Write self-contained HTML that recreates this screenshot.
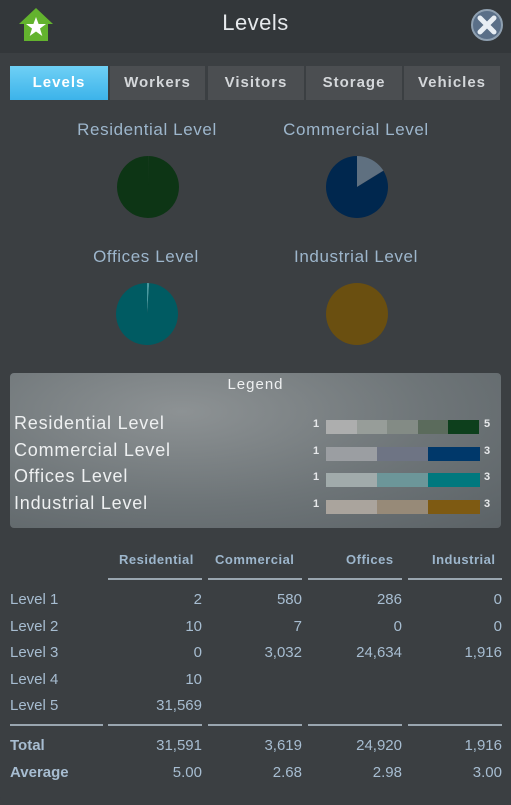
<!DOCTYPE html>
<html><head><meta charset="utf-8">
<style>
*{margin:0;padding:0;box-sizing:border-box}
body{width:511px;height:805px;background:#3c3f42;font-family:"Liberation Sans","DejaVu Sans",sans-serif;position:relative;overflow:hidden}
.a{position:absolute}
.panel{left:0;top:0;width:511px;height:805px;background:#3b3f42;border-radius:8px}
.header{left:0;top:0;width:511px;height:53px;background:#33373a}
.title{left:0;top:10px;width:511px;text-align:center;color:#e6e9ec;font-size:22px;letter-spacing:.5px}
.tab{top:66px;height:34px;background:#4b4e51;color:#d4d7da;font-size:15px;font-weight:bold;text-align:center;line-height:34px;letter-spacing:1px}
.ptitle{color:#9db6cc;font-size:17px;text-align:center;width:210px;letter-spacing:.6px}
.legend{left:10px;top:373px;width:491px;height:155px;border-radius:4px;background:radial-gradient(ellipse at 35% 25%,#8d9294 0%,#6e7578 55%,#5b6266 100%)}
.ll{color:#eef0f1;font-size:18px;left:4px;letter-spacing:.8px}
.num{color:#e6e8ea;font-size:11px;font-weight:bold}
.sw{height:14px;top:0}
.th{color:#9db6cc;font-size:13px;font-weight:bold;top:552px;letter-spacing:.5px}
.td{color:#a7bdd1;font-size:15px;text-align:right;width:90px}
.rl{color:#a7bdd1;font-size:15px;left:10px}
.line{height:2px;background:#9aa6b0}
</style></head><body>
<div class="a panel"></div>
<div class="a header"></div>
<svg class="a" style="left:18px;top:7px" width="36" height="36">
<polygon points="18,1 35,17 30,17 30,34 6,34 6,17 1,17" fill="#63b32e"/>
<polygon points="18,10 20.6,17 28,17 22,21.5 24.3,29 18,24.5 11.7,29 14,21.5 8,17 15.4,17" fill="#fff"/></svg>
<div class="a title">Levels</div>
<svg class="a" style="left:470px;top:9px" width="34" height="34">
<circle cx="17" cy="16" r="15" fill="#5a6f88" stroke="#8fa0b1" stroke-width="2"/>
<path d="M10 9 L24 23 M24 9 L10 23" stroke="#e8eef4" stroke-width="5" stroke-linecap="round"/></svg>

<div class="a tab" style="left:10px;width:98px;background:linear-gradient(#6fd0f5,#3cb3ea);color:#fff">Levels</div>
<div class="a tab" style="left:110px;width:95px">Workers</div>
<div class="a tab" style="left:208px;width:96px">Visitors</div>
<div class="a tab" style="left:306px;width:96px">Storage</div>
<div class="a tab" style="left:404px;width:96px">Vehicles</div>

<div class="a ptitle" style="left:42px;top:120px">Residential Level</div>
<div class="a ptitle" style="left:251px;top:120px">Commercial Level</div>
<div class="a ptitle" style="left:41px;top:247px">Offices Level</div>
<div class="a ptitle" style="left:251px;top:247px">Industrial Level</div>
<svg id="pies" class="a" style="left:0;top:0" width="511" height="360"></svg>

<div class="a legend">
<div class="a" style="left:0;top:3px;width:491px;text-align:center;color:#eef0f1;font-size:15px;letter-spacing:1px">Legend</div>
<div id="legrows"></div>
</div>

<div id="table"></div>

<script>
const categories=["Residential","Commercial","Offices","Industrial"];
const residential=[2,10,0,10,31569];
const commercial=[580,7,3032];
const offices=[286,0,24634];
const industrial=[0,0,1916];
const averages=["5.00","2.68","2.98","3.00"];
const resColors=["#adaeae","#979d99","#838b85","#5b6b5c","#0d3515"];
const comColors=["#5f7080","#6b7083","#00274e"];
const offColors=["#4a9aa0","#6a9a9c","#005b62"];
const indColors=["#a7a39c","#958a77","#6a4f10"];
const legendColors=[["#adaeae","#979d99","#838b85","#5b6b5c","#0d3f1c"],["#9b9ea2","#6e7484","#00386a"],["#a1abab","#6c9699","#00787e"],["#aaa49d","#978a78","#7e5a12"]];
const series=[residential,commercial,offices,industrial];
const pieColors=[resColors,comColors,offColors,indColors];
const pieCenters=[[148,187],[357,187],[147,314],[357,314]];
const NS="http://www.w3.org/2000/svg";
const pies=document.getElementById('pies');
series.forEach((vals,si)=>{
  const tot=vals.reduce((a,b)=>a+b,0);const [cx,cy]=pieCenters[si];const r=31;
  let ang=0;
  vals.forEach((v,i)=>{
    if(v<=0)return;
    const f=v/tot;let el;
    if(f>=0.9999){el=document.createElementNS(NS,'circle');el.setAttribute('cx',cx);el.setAttribute('cy',cy);el.setAttribute('r',r);}
    else{
      const a0=ang*2*Math.PI,a1=(ang+f)*2*Math.PI;
      const x0=cx+r*Math.sin(a0),y0=cy-r*Math.cos(a0),x1=cx+r*Math.sin(a1),y1=cy-r*Math.cos(a1);
      el=document.createElementNS(NS,'path');
      el.setAttribute('d',`M${cx},${cy} L${x0},${y0} A${r},${r} 0 ${f>0.5?1:0} 1 ${x1},${y1} Z`);
    }
    el.setAttribute('fill',pieColors[si][i]);
    
    
    pies.appendChild(el);
    ang+=f;
  });
});
const leg=document.getElementById('legrows');
const legNames=["Residential Level","Commercial Level","Offices Level","Industrial Level"];
legNames.forEach((n,i)=>{
  const y=38+i*26.5;
  const t=document.createElement('div');t.className='a ll';t.style.top=(y+2)+'px';t.textContent=n;
  
  
  leg.appendChild(t);
  const cols=legendColors[i];const w=153/cols.length;
  const n1=document.createElement('div');n1.className='a num';n1.style.left='303px';n1.style.top=(y+7)+'px';n1.textContent='1';leg.appendChild(n1);
  const n2=document.createElement('div');n2.className='a num';n2.style.left='474px';n2.style.top=(y+7)+'px';n2.textContent=cols.length;leg.appendChild(n2);
  cols.forEach((c,j)=>{
    const s=document.createElement('div');s.className='a sw';s.style.left=(316+j*w)+'px';s.style.top=(y+9)+'px';s.style.width=(w+0.5)+'px';s.style.background=c;
    
    
    leg.appendChild(s);
  });
});
const tb=document.getElementById('table');
const colRight=[202,302,402,502];
const headerLeft=[119,215,346,432];
const fmt=v=>v.toLocaleString('en-US');
categories.forEach((c,i)=>{
  const h=document.createElement('div');h.className='a th';h.style.left=headerLeft[i]+'px';h.textContent=c;
  
  
  tb.appendChild(h);
  [578,724].forEach(y=>{const l=document.createElement('div');l.className='a line';l.style.left=(colRight[i]-94)+'px';l.style.width='94px';l.style.top=y+'px';tb.appendChild(l);});
});
const l2=document.createElement('div');l2.className='a line';l2.style.left='10px';l2.style.width='93px';l2.style.top='724px';tb.appendChild(l2);
const rowY=[591,618,644,671,697];
rowY.forEach((y,r)=>{
  const lab=document.createElement('div');lab.className='a rl';lab.style.top=y+'px';lab.textContent='Level '+(r+1);
  
  
  tb.appendChild(lab);
  series.forEach((s,i)=>{
    if(r>=s.length)return;
    const d=document.createElement('div');d.className='a td';d.style.left=(colRight[i]-90)+'px';d.style.top=y+'px';d.textContent=fmt(s[r]);
    
    
    tb.appendChild(d);
  });
});
[["Total",737],["Average",764]].forEach(([n,y],k)=>{
  const lab=document.createElement('div');lab.className='a rl';lab.style.top=y+'px';lab.style.fontWeight='bold';lab.textContent=n;
  
  
  tb.appendChild(lab);
  series.forEach((s,i)=>{
    const d=document.createElement('div');d.className='a td';d.style.left=(colRight[i]-90)+'px';d.style.top=y+'px';
    d.textContent=k==0?fmt(s.reduce((a,b)=>a+b,0)):averages[i];
    
    
    tb.appendChild(d);
  });
});
</script>
</body></html>
